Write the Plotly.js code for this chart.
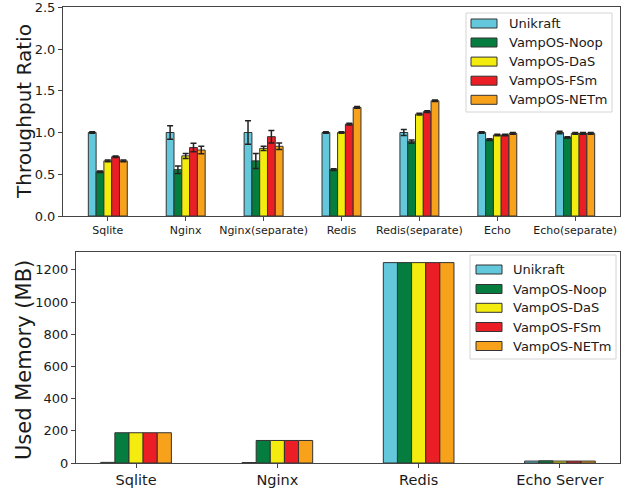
<!DOCTYPE html>
<html>
<head>
<meta charset="utf-8">
<script src="https://cdn.plot.ly/plotly-3.0.1.min.js"></script>
<style>html,body{margin:0;padding:0;background:#fff;}#chart{width:626px;height:488px;}</style>
</head>
<body>
<div id="chart"></div>
<script>
// ---- data ----
const seriesNames = ['Unikraft', 'VampOS-Noop', 'VampOS-DaS', 'VampOS-FSm', 'VampOS-NETm'];
const colors = ['#64c8dc', '#057d3f', '#f4ec0e', '#ec1e25', '#f8a21c'];

const throughputCategories = ['Sqlite', 'Nginx', 'Nginx(separate)', 'Redis', 'Redis(separate)', 'Echo', 'Echo(separate)'];
const tpUnikraft = [1.00, 1.00, 1.00, 1.00, 1.00, 1.00, 1.00];
const tpNoop     = [0.53, 0.555, 0.66, 0.555, 0.89, 0.915, 0.94];
const tpDaS      = [0.66, 0.72, 0.81, 1.00, 1.22, 0.97, 0.99];
const tpFSm      = [0.71, 0.82, 0.95, 1.10, 1.25, 0.97, 0.99];
const tpNETm     = [0.66, 0.79, 0.835, 1.30, 1.38, 0.99, 0.99];
const errUnikraft = [0.01, 0.08, 0.14, 0.01, 0.035, 0.01, 0.015];
const errNoop     = [0.01, 0.045, 0.09, 0.01, 0.02, 0.01, 0.01];
const errDaS      = [0.01, 0.03, 0.025, 0.01, 0.01, 0.01, 0.01];
const errFSm      = [0.01, 0.05, 0.075, 0.01, 0.01, 0.01, 0.01];
const errNETm     = [0.01, 0.045, 0.04, 0.01, 0.01, 0.01, 0.01];

const memoryCategories = ['Sqlite', 'Nginx', 'Redis', 'Echo Server'];
const memUnikraft = [4, 3, 1245, 12];
const memNoop     = [188, 140, 1245, 14];
const memDaS      = [188, 140, 1245, 12];
const memFSm      = [188, 140, 1245, 12];
const memNETm     = [188, 140, 1245, 12];

const tpSeries = [tpUnikraft, tpNoop, tpDaS, tpFSm, tpNETm];
const tpErrs = [errUnikraft, errNoop, errDaS, errFSm, errNETm];
const memSeries = [memUnikraft, memNoop, memDaS, memFSm, memNETm];

// ---- layout helpers (pixel -> paper) ----
const W = 626, H = 488;
const px = x => x / W;
const py = y => 1 - y / H;
const FONT = 'DejaVu Sans';
const TXT = '#1a1a1a';

const traces = [];
seriesNames.forEach((name, i) => {
  traces.push({
    type: 'bar', name: name, x: throughputCategories, y: tpSeries[i],
    xaxis: 'x', yaxis: 'y', showlegend: false,
    marker: {color: colors[i], line: {color: '#333', width: 1}},
    error_y: {type: 'data', array: tpErrs[i], visible: true, color: '#222', thickness: 1.5, width: 3}
  });
});
seriesNames.forEach((name, i) => {
  traces.push({
    type: 'bar', name: name, x: memoryCategories, y: memSeries[i],
    xaxis: 'x2', yaxis: 'y2', showlegend: false,
    marker: {color: colors[i], line: {color: '#333', width: 1}}
  });
});

const axisCommon = {
  showgrid: false, zeroline: false, showline: true, mirror: true,
  linecolor: '#444', linewidth: 1, ticks: 'outside', ticklen: 4, tickwidth: 1,
  tickcolor: '#444', automargin: false, ticklabeloverflow: 'allow'
};

// legends drawn as shapes/annotations to match swatch geometry
const shapes = [];
const annotations = [];
function addLegend(box, swX, txtX, rowsY) {
  shapes.push({type: 'rect', xref: 'paper', yref: 'paper', layer: 'above',
    x0: px(box[0]), x1: px(box[1]), y0: py(box[2]), y1: py(box[3]),
    line: {color: '#d4d4d4', width: 1}, fillcolor: 'rgba(255,255,255,0.85)'});
  seriesNames.forEach((name, i) => {
    shapes.push({type: 'rect', xref: 'paper', yref: 'paper', layer: 'above',
      x0: px(swX), x1: px(swX + 26), y0: py(rowsY[i] - 4.5), y1: py(rowsY[i] + 4.5),
      line: {color: '#333', width: 1}, fillcolor: colors[i]});
    annotations.push({xref: 'paper', yref: 'paper', x: px(txtX), y: py(rowsY[i]),
      xanchor: 'left', yanchor: 'middle', showarrow: false, text: name,
      font: {family: FONT, size: 13, color: TXT}});
  });
}
addLegend([466, 612, 13, 112], 471, 507, [23.5, 42.5, 61.6, 80.7, 99.8]);
addLegend([470, 616, 255, 359], 476, 511, [269.5, 289, 307.8, 327, 346]);

annotations.push({xref: 'paper', yref: 'paper', x: px(24), y: py(112), textangle: -90,
  xanchor: 'center', yanchor: 'middle', showarrow: false, text: 'Throughput Ratio',
  font: {family: FONT, size: 20, color: TXT}});
annotations.push({xref: 'paper', yref: 'paper', x: px(24), y: py(360), textangle: -90,
  xanchor: 'center', yanchor: 'middle', showarrow: false, text: 'Used Memory (MB)',
  font: {family: FONT, size: 21, color: TXT}});

const layout = {
  width: W, height: H,
  margin: {l: 0, r: 0, t: 0, b: 0},
  paper_bgcolor: '#fff', plot_bgcolor: '#fff',
  barmode: 'group', bargap: 0.5, bargroupgap: 0,
  font: {family: FONT, color: TXT},
  xaxis: Object.assign({}, axisCommon, {
    domain: [px(63), px(620)], anchor: 'y', type: 'category',
    range: [-0.575, 6.575], tickfont: {family: FONT, size: 11, color: TXT}
  }),
  yaxis: Object.assign({}, axisCommon, {
    domain: [py(216), py(7)], anchor: 'x', range: [0, 2.503], tick0: 0, dtick: 0.5,
    tickformat: '.1f', tickfont: {family: FONT, size: 13, color: TXT}
  }),
  xaxis2: Object.assign({}, axisCommon, {
    domain: [px(76), px(620)], anchor: 'y2', type: 'category',
    range: [-0.425, 3.425], tickfont: {family: FONT, size: 14.5, color: TXT}
  }),
  yaxis2: Object.assign({}, axisCommon, {
    domain: [py(463), py(252)], anchor: 'x2', range: [0, 1311], tick0: 0, dtick: 200,
    tickfont: {family: FONT, size: 13, color: TXT}
  }),
  shapes: shapes,
  annotations: annotations,
  showlegend: false
};

Plotly.newPlot('chart', traces, layout, {displayModeBar: false, staticPlot: true});
</script>
</body>
</html>
